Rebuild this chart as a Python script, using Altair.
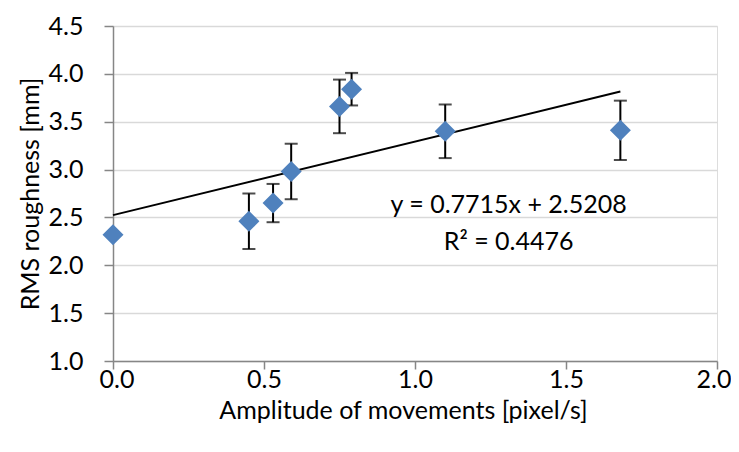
import altair as alt
import pandas as pd

# data
amplitude = [0.00, 0.45, 0.53, 0.59, 0.75, 0.79, 1.10, 1.68]
roughness = [2.32, 2.46, 2.65, 2.98, 3.66, 3.84, 3.40, 3.41]
error = [0.00, 0.29, 0.20, 0.29, 0.28, 0.17, 0.28, 0.31]

eq_text = ["y = 0.7715x + 2.5208", "R² = 0.4476"]
eq_x = [1.31, 1.31]
eq_y = [2.63, 2.24]

x_ticks = [0.0, 0.5, 1.0, 1.5, 2.0]
y_ticks = [1.0, 1.5, 2.0, 2.5, 3.0, 3.5, 4.0, 4.5]

df = pd.DataFrame({"x": amplitude, "y": roughness, "err": error})
df["lo"] = df["y"] - df["err"]
df["hi"] = df["y"] + df["err"]
err_df = df[df["err"] > 0]
eq_df = pd.DataFrame({"t": eq_text, "x": eq_x, "y": eq_y})

FONT = "Lato"
FS = 25
xscale = alt.Scale(domain=[0, 2])
yscale = alt.Scale(domain=[1, 4.5])

xenc = alt.X("x:Q", scale=xscale, title="Amplitude of movements [pixel/s]",
             axis=alt.Axis(values=x_ticks, format=".1f", grid=False,
                           labelFlush=True, labelFlushOffset=14,
                           domainColor="#868686", domainWidth=1.5,
                           tickColor="#868686", tickSize=8, tickWidth=1.5,
                           labelFontSize=FS, labelPadding=-2, labelColor="#000000",
                           labelFont=FONT, titleFont=FONT, titleFontSize=FS,
                           titleFontWeight="normal", titleColor="#000000",
                           titlePadding=6, titleX=290))
yenc = alt.Y("y:Q", scale=yscale, title="RMS roughness [mm]",
             axis=alt.Axis(values=y_ticks, format=".1f", grid=True,
                           gridColor="#D9D9D9", gridWidth=1.5,
                           domainColor="#868686", domainWidth=1.5,
                           tickColor="#868686", tickSize=9, tickWidth=1.5,
                           labelFontSize=FS, labelPadding=21, labelColor="#000000",
                           labelFont=FONT, titleFont=FONT, titleFontSize=FS,
                           titleFontWeight="normal", titleColor="#000000",
                           titlePadding=5))

base = alt.Chart(df)

trend = base.transform_regression("x", "y").mark_line(
    color="#000000", strokeWidth=2).encode(x=xenc, y=yenc)

bars = alt.Chart(err_df).mark_rule(color="#000000", strokeWidth=2).encode(
    x="x:Q", y=alt.Y("lo:Q", scale=yscale), y2="hi:Q")
cap_lo = alt.Chart(err_df).mark_tick(color="#000000", thickness=2, size=13,
                                     orient="horizontal").encode(
    x="x:Q", y=alt.Y("lo:Q", scale=yscale))
cap_hi = alt.Chart(err_df).mark_tick(color="#000000", thickness=2, size=13,
                                     orient="horizontal").encode(
    x="x:Q", y=alt.Y("hi:Q", scale=yscale))

points = base.mark_point(shape="diamond", filled=True, size=441,
                         color="#4F81BD", opacity=1).encode(x="x:Q", y="y:Q")

eq = alt.Chart(eq_df).mark_text(font=FONT, fontSize=25, color="#000000",
                                align="center", baseline="middle").encode(
    x="x:Q", y="y:Q", text="t:N")

chart = alt.layer(trend, bars, cap_lo, cap_hi, points, eq).properties(
    width=604, height=335,
    autosize=alt.AutoSizeParams(type="none"),
    padding={"left": 105, "top": 18, "right": 14, "bottom": 83},
).configure_view(stroke="#000000", strokeWidth=1.5).configure(background="#FFFFFF")

chart.save("out.html", embed_options={"renderer": "svg", "actions": False})
